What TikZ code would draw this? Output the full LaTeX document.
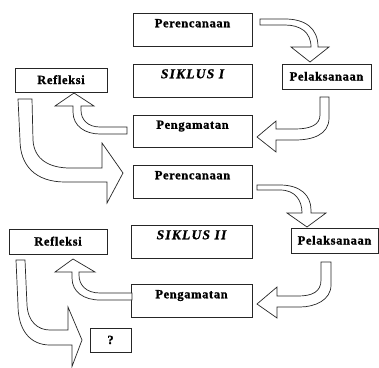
\documentclass[tikz,border=0pt]{standalone}
\usepackage{fontspec}
\setmainfont{Liberation Serif}
\newfontfamily\lblfont[LetterSpace=5, BoldFeatures={FakeBold=1.2}]{Liberation Serif}
\newfontfamily\sikfont[LetterSpace=9, BoldItalicFeatures={FakeBold=1.2}]{Liberation Serif}
\begin{document}
\begin{tikzpicture}[x=1pt,y=-1pt,
  bigbox/.style={draw=black!85, line width=0.8pt, rectangle, minimum height=33pt,
    inner sep=2pt, font=\lblfont\bfseries\fontsize{12.5}{14}\selectfont,
    text height=9pt, text depth=13.5pt},
  sikbox/.style={bigbox, font=\sikfont\bfseries\itshape\fontsize{13.5}{15}\selectfont},
  smallbox/.style={draw=black!85, line width=0.8pt, rectangle, minimum height=25pt,
    inner sep=2pt, font=\lblfont\bfseries\fontsize{12.5}{14}\selectfont,
    text height=8.5pt, text depth=0.5pt},
  blockarrow/.style={draw=black!85, line width=0.7pt, fill=white, line join=miter}]
\useasboundingbox (0,0) rectangle (379,367);
% boxes, cycle I
\node[bigbox, minimum width=119pt] (per1) at (192.5,29.5) {Perencanaan};
\node[sikbox, minimum width=119pt] (sik1) at (192.5,80.5) {SIKLUS I};
\node[smallbox, minimum width=92pt, minimum height=24pt] (ref1) at (61,80) {Refleksi};
\node[smallbox, minimum width=89pt] (pel1) at (326.5,76.5) {Pelaksanaan};
\node[bigbox, minimum width=119pt, minimum height=32pt] (pen1) at (192.5,131) {Pengamatan};
% boxes, cycle II
\node[bigbox, minimum width=119pt] (per2) at (192.5,181.5) {Perencanaan};
\node[sikbox, minimum width=121pt] (sik2) at (191.5,241.5) {SIKLUS II};
\node[smallbox, minimum width=98pt] (ref2) at (58,241.5) {Refleksi};
\node[smallbox, minimum width=87pt] (pel2) at (334.5,240.5) {Pelaksanaan};
\node[bigbox, minimum width=121pt] (pen2) at (191.5,300.5) {Pengamatan};
\node[smallbox, minimum width=41pt, minimum height=24pt] (q) at (110.5,340) {?};
% block arrows, cycle I
\draw[blockarrow] (260,19) -- (285,19) .. controls (305,19) and (318,28) .. (318,47)
  -- (329,47) -- (310,62) -- (291,47) -- (311,47)
  .. controls (311,32) and (300,25) .. (285,25) -- (260,25) -- cycle;
\draw[blockarrow] (320,97) -- (329,97) -- (329,118) .. controls (329,135) and (312,140) .. (295,140)
  -- (276,140) -- (276,152) -- (257,137) -- (276,121) -- (276,129) -- (295,129)
  .. controls (310,129) and (320,125) .. (320,115) -- cycle;
\draw[blockarrow] (127,127) -- (100,127) .. controls (88,127) and (81,120) .. (81,110)
  -- (81,106) -- (94,106) -- (74,93) -- (55,106) -- (73,106) -- (73,112)
  .. controls (73,126) and (85,134) .. (100,134) -- (127,134) -- cycle;
\draw[blockarrow] (18,99) -- (32,99) -- (33,140) .. controls (34,160) and (50,168) .. (70,168)
  -- (102,168) -- (102,143) -- (123,173) -- (107,203) -- (107,182) -- (65,182)
  .. controls (35,182) and (20,165) .. (20,140) -- cycle;
% block arrows, cycle II
\draw[blockarrow] (257,185) -- (280,185) .. controls (300,185) and (311,195) .. (311,210)
  -- (311,213) -- (326,213) -- (307,227) -- (287,213) -- (302,213)
  .. controls (302,200) and (295,190) .. (280,190) -- (257,190) -- cycle;
\draw[blockarrow] (321,262) -- (331,262) -- (331,285) .. controls (331,300) and (315,307) .. (300,307)
  -- (277,307) -- (277,318) -- (257,304) -- (277,287) -- (277,296) -- (298,296)
  .. controls (312,296) and (321,292) .. (321,280) -- cycle;
\draw[blockarrow] (132,293) -- (100,293) .. controls (86,293) and (79,285) .. (79,275)
  -- (79,272) -- (95,272) -- (73,259) -- (55,272) -- (72,272) -- (72,278)
  .. controls (72,292) and (84,300) .. (100,300) -- (132,300) -- cycle;
\draw[blockarrow] (16,260) -- (25,260) -- (27,305) .. controls (28,322) and (38,330) .. (50,330)
  -- (68,330) -- (68,307) -- (82,340) -- (72,366.5) -- (72,345) -- (50,345)
  .. controls (30,345) and (18,330) .. (18,305) -- cycle;
\end{tikzpicture}
\end{document}
